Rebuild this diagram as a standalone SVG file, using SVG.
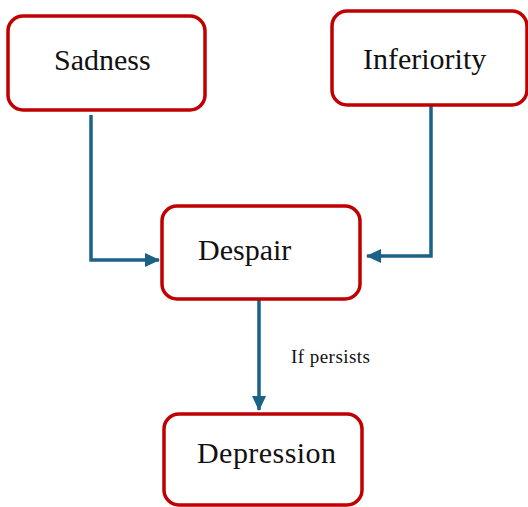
<svg xmlns="http://www.w3.org/2000/svg" width="528" height="507" viewBox="0 0 528 507">
<style>
.box{fill:#fff;stroke:#C00000;stroke-width:3.5}
.lbl{font-family:"Liberation Serif","Times New Roman",serif;font-size:30px;fill:#111}
.small{font-family:"Liberation Serif","Times New Roman",serif;font-size:19px;fill:#111}
.conn{fill:none;stroke:#1B6286;stroke-width:3.5}
</style>
<defs>
<marker id="arr" markerUnits="userSpaceOnUse" markerWidth="16" markerHeight="16" refX="14" refY="8" orient="auto" viewBox="0 0 16 16">
<path d="M0,1 L15,8 L0,15 Z" fill="#1B6286"/>
</marker>
</defs>
<rect width="528" height="507" fill="#fff"/>
<g id="connectors">
<path class="conn" d="M91,115 V260 H159" marker-end="url(#arr)"/>
<path class="conn" d="M431,106 V256 H367" marker-end="url(#arr)"/>
<path class="conn" d="M259,300 V410" marker-end="url(#arr)"/>
<text class="small" x="291" y="363" textLength="79">If persists</text>
</g>
<g id="sadness">
<rect class="box" x="8" y="16" width="197" height="94" rx="15"/>
<text class="lbl" x="54" y="70">Sadness</text>
</g>
<g id="inferiority">
<rect class="box" x="332" y="11" width="195" height="94" rx="15"/>
<text class="lbl" x="363" y="69">Inferiority</text>
</g>
<g id="despair">
<rect class="box" x="162" y="206" width="198" height="93" rx="15"/>
<text class="lbl" x="198" y="260">Despair</text>
</g>
<g id="depression">
<rect class="box" x="164" y="414" width="198" height="91" rx="15"/>
<text class="lbl" x="197" y="463" textLength="139">Depression</text>
</g>
</svg>
